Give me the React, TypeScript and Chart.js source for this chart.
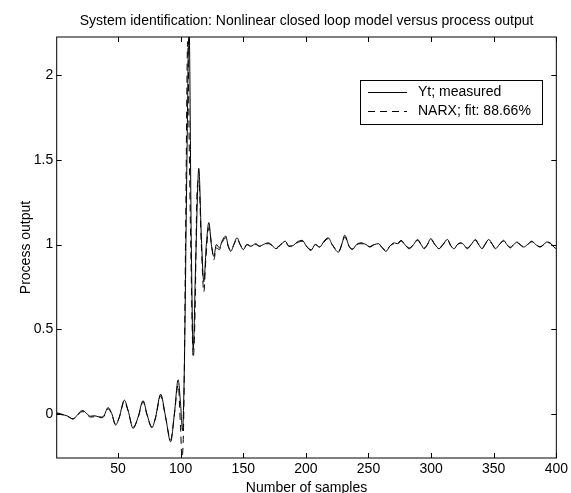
import { useEffect, useRef } from "react";
import { Chart, registerables } from "chart.js";

Chart.register(...registerables);

const TITLE = "System identification: Nonlinear closed loop model versus process output";
const X_LABEL = "Number of samples";
const Y_LABEL = "Process output";
const LEGEND_LABELS = ["Yt; measured", "NARX; fit: 88.66%"];

const xTicks = [50, 100, 150, 200, 250, 300, 350, 400];
const yTicks = [0, 0.5, 1, 1.5, 2];

const measuredX = [
  1, 4, 7, 10, 14, 17, 20, 22, 25, 28, 31, 34, 37, 39, 42, 45, 48, 51, 55, 58, 62, 66, 70, 73, 77, 80, 84, 88, 92, 95, 98,
  100, 101.5, 103, 105, 106.7, 108.5, 110, 112, 114.5, 116.5, 118.5, 120.5, 122.5, 124.5, 126.5, 128.5, 131, 133, 136, 138,
  140, 142.5, 145, 147.5, 150, 153, 156, 160, 163, 166, 170, 173, 176, 180, 183.5, 186.5, 190, 193, 197, 200.5, 204, 207.5,
  211, 214.5, 217.8, 221, 226, 229, 231, 234.5, 237, 240.5, 244, 248, 251, 254.8, 258, 261, 264, 267, 270.7, 273, 276, 279,
  282.6, 286, 289.2, 292, 294.5, 297, 299.8, 303, 306.4, 309.5, 313, 316, 318.3, 321, 323.6, 326, 328.9, 332, 335.5, 338,
  340.8, 343, 346, 349, 351.3, 354.5, 357.9, 360.5, 363.2, 366, 368.5, 371, 373.8, 377, 380.4, 383.5, 387, 390, 392.3, 395,
  398, 400,
];
const measuredY = [
  0.005, 0.0, -0.008, -0.015, -0.032, -0.012, 0.014, 0.018, 0.0, -0.015, -0.012, -0.018, -0.02, -0.008, 0.036, 0.0, -0.067,
  -0.02, 0.08, 0.02, -0.087, -0.02, 0.077, 0.0, -0.083, -0.02, 0.115, -0.02, -0.166, 0.0, 0.2,
  0.05, -0.1, 0.3, 1.5, 2.3, 1.0, 0.38, 0.9, 1.45, 1.05, 0.78, 1.0, 1.13, 1.0, 0.93, 1.0, 0.98, 1.02, 1.05, 0.99,
  0.96, 1.0, 1.04, 1.0, 0.97, 1.0, 0.99, 1.005, 0.99, 1.0, 1.01, 0.995, 0.975, 1.0, 1.02, 0.99, 0.995, 1.015, 1.025, 0.99,
  0.965, 1.0, 0.985, 1.02, 1.04, 1.0, 0.955, 1.01, 1.055, 0.99, 0.97, 1.0, 1.01, 1.0, 0.985, 1.0, 1.005, 0.98, 0.96, 0.99,
  1.01, 1.005, 1.025, 1.0, 0.975, 1.0, 1.03, 1.0, 0.975, 1.0, 1.035, 1.0, 0.975, 1.0, 1.03, 0.99, 0.975, 1.0, 1.01, 1.0,
  0.975, 1.0, 1.03, 1.0, 0.975, 1.0, 1.03, 1.0, 0.975, 1.0, 1.025, 1.0, 0.98, 1.0, 1.015, 1.0, 0.985, 1.0, 1.02, 1.0,
  0.985, 1.0, 1.015, 1.01, 0.985, 0.975,
];

const narxX = [
  1, 4, 7, 10, 14, 17, 20, 22, 25, 28, 31, 34, 37, 39, 42, 45, 48, 51, 55, 58, 62, 66, 70, 73, 77, 80, 84, 88, 92, 95, 98,
  100, 101, 102.5, 104, 105.6, 107, 108.5, 110, 111.5, 113, 114.5, 116.5, 118.5, 120, 122.5, 125, 126.5, 128.5, 131, 133,
  136, 138, 140, 142.5, 145, 147.5, 150, 153, 156, 160, 163, 166, 170, 173, 176, 180, 183.5, 186.5, 190, 193, 197, 200.5,
  204, 207.5, 211, 214.5, 217.8, 221, 226, 229, 231, 234.5, 237, 240.5, 244, 248, 251, 254.8, 258, 261, 264, 267, 270.7,
  273, 276, 279, 282.6, 286, 289.2, 292, 294.5, 297, 299.8, 303, 306.4, 309.5, 313, 316, 318.3, 321, 323.6, 326, 328.9, 332,
  335.5, 338, 340.8, 343, 346, 349, 351.3, 354.5, 357.9, 360.5, 363.2, 366, 368.5, 371, 373.8, 377, 380.4, 383.5, 387, 390,
  392.3, 395, 398, 400,
];
const narxY = [
  0.002, -0.004, -0.01, -0.018, -0.03, -0.016, 0.008, 0.012, -0.004, -0.02, -0.018, -0.022, -0.024, -0.014, 0.03, -0.004,
  -0.062, -0.022, 0.072, 0.016, -0.08, -0.024, 0.07, -0.004, -0.078, -0.024, 0.105, -0.024, -0.155, -0.004, 0.17,
  -0.1, -0.26, 0.0, 1.1, 2.2, 1.5, 0.8, 0.33, 0.6, 1.3, 1.38, 1.0, 0.72, 0.9, 1.1, 0.98, 0.91, 0.98, 0.97, 1.01,
  1.04, 0.99, 0.965, 1.0, 1.035, 1.0, 0.975, 1.0, 0.99, 1.0, 0.99, 1.0, 1.005, 0.995, 0.98, 1.0, 1.015, 0.99, 0.995, 1.01,
  1.02, 0.99, 0.97, 1.0, 0.985, 1.015, 1.035, 1.0, 0.96, 1.005, 1.045, 0.99, 0.975, 1.0, 1.005, 1.0, 0.988, 1.0, 1.0, 0.982,
  0.965, 0.99, 1.005, 1.0, 1.02, 1.0, 0.98, 1.0, 1.025, 1.0, 0.98, 1.0, 1.03, 1.0, 0.98, 1.0, 1.025, 0.99, 0.98, 1.0, 1.008,
  1.0, 0.98, 1.0, 1.025, 1.0, 0.98, 1.0, 1.025, 1.0, 0.98, 1.0, 1.02, 1.0, 0.984, 1.0, 1.012, 1.0, 0.988, 1.0, 1.016, 1.0,
  0.988, 1.0, 1.012, 1.008, 0.988, 0.98,
];

const FONT = "Arial, 'Liberation Sans', Helvetica, sans-serif";
const DASH = [7, 5];

const toPoints = (xs: number[], ys: number[]) => xs.map((x, i) => ({ x, y: ys[i] }));

const framePlugin = {
  id: "matlabFrame",
  afterDatasetsDraw(chart: any) {
    const { ctx, chartArea, scales } = chart;
    const { left, right, top, bottom } = chartArea;
    ctx.save();
    ctx.strokeStyle = "#000";
    ctx.lineWidth = 1;
    ctx.setLineDash([]);
    ctx.strokeRect(left, top, right - left, bottom - top);
    const tl = 5;
    ctx.beginPath();
    for (const v of xTicks) {
      const px = Math.round(scales.x.getPixelForValue(v)) + 0.5;
      ctx.moveTo(px, bottom);
      ctx.lineTo(px, bottom - tl);
      ctx.moveTo(px, top);
      ctx.lineTo(px, top + tl);
    }
    for (const v of yTicks) {
      const py = Math.round(scales.y.getPixelForValue(v)) + 0.5;
      ctx.moveTo(left, py);
      ctx.lineTo(left + tl, py);
      ctx.moveTo(right, py);
      ctx.lineTo(right - tl, py);
    }
    ctx.stroke();

    // legend box
    const bx = 360.5, by = 80.5, bw = 182, bh = 44;
    ctx.fillStyle = "#fff";
    ctx.fillRect(bx, by, bw, bh);
    ctx.strokeRect(bx, by, bw, bh);
    const rows = [92, 111];
    ctx.font = `14px ${FONT}`;
    ctx.textBaseline = "middle";
    ctx.fillStyle = "#000";
    rows.forEach((ry, i) => {
      ctx.beginPath();
      ctx.setLineDash(i === 0 ? [] : DASH);
      ctx.moveTo(368, ry + 0.5);
      ctx.lineTo(407, ry + 0.5);
      ctx.stroke();
      ctx.setLineDash([]);
      ctx.fillText(LEGEND_LABELS[i], 418, ry + 0.5);
    });
    ctx.restore();
  },
};

export default function App() {
  const ref = useRef<HTMLCanvasElement>(null);
  useEffect(() => {
    document.body.style.margin = "0";
    const chart = new Chart(ref.current as HTMLCanvasElement, {
      type: "scatter",
      data: {
        datasets: [
          {
            label: LEGEND_LABELS[0],
            data: toPoints(measuredX, measuredY),
            showLine: true,
            borderColor: "#000",
            borderWidth: 1,
            pointRadius: 0,
            cubicInterpolationMode: "monotone",
          },
          {
            label: LEGEND_LABELS[1],
            data: toPoints(narxX, narxY),
            showLine: true,
            borderColor: "#000",
            borderWidth: 1,
            borderDash: DASH,
            pointRadius: 0,
            cubicInterpolationMode: "monotone",
          },
        ],
      },
      options: {
        animation: false,
        responsive: false,
        devicePixelRatio: 1,
        layout: { padding: { left: 0, right: 11, top: 0, bottom: 0 } },
        plugins: {
          legend: { display: false },
          tooltip: { enabled: false },
          title: {
            display: true,
            text: TITLE,
            color: "#000",
            font: { family: FONT, size: 14, weight: "normal", lineHeight: 1.2 },
            padding: { top: 12.6, bottom: 7.6 },
            fullSize: false,
          },
        },
        scales: {
          x: {
            type: "linear",
            min: 1,
            max: 400,
            grid: { display: false, drawTicks: false },
            border: { display: false },
            ticks: { color: "#000", font: { family: FONT, size: 14 }, padding: 3, maxRotation: 0, autoSkip: false },
            afterBuildTicks: (s: any) => {
              s.ticks = xTicks.map((v) => ({ value: v }));
            },
            afterFit: (s: any) => {
              s.height = 35;
            },
            title: {
              display: true,
              text: X_LABEL,
              color: "#000",
              font: { family: FONT, size: 14, lineHeight: 1 },
              padding: { top: 0, bottom: -2 },
            },
          },
          y: {
            type: "linear",
            min: -0.262,
            max: 2.227,
            grid: { display: false, drawTicks: false },
            border: { display: false },
            ticks: {
              color: "#000",
              font: { family: FONT, size: 14 },
              padding: 3.5,
              autoSkip: false,
              callback: (v: any) => String(Number(v)),
            },
            afterBuildTicks: (s: any) => {
              s.ticks = yTicks.map((v) => ({ value: v }));
            },
            afterFit: (s: any) => {
              s.width = 56.7;
            },
            title: {
              display: true,
              text: Y_LABEL,
              color: "#000",
              font: { family: FONT, size: 14, lineHeight: 1 },
              padding: { top: 19, bottom: 0 },
            },
          },
        },
      },
      plugins: [framePlugin],
    } as any);
    return () => chart.destroy();
  }, []);
  return (
    <div style={{ width: 571, height: 493, position: "relative", background: "#fff" }}>
      <canvas ref={ref} width={571} height={493} style={{ display: "block" }} />
    </div>
  );
}
